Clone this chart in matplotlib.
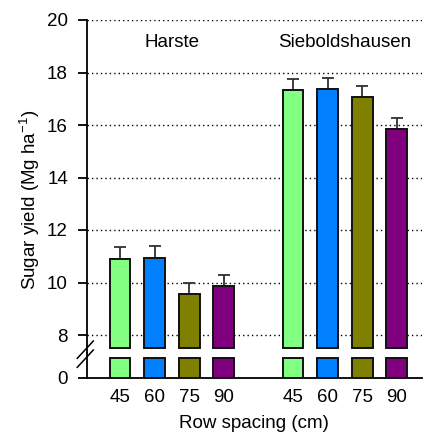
import matplotlib
matplotlib.use("Agg")
import matplotlib.pyplot as plt
from matplotlib.lines import Line2D
import numpy as np

plt.rcParams['font.family'] = ['Liberation Sans', 'DejaVu Sans']
plt.rcParams['mathtext.fontset'] = 'custom'
plt.rcParams['mathtext.rm'] = 'Liberation Sans'
plt.rcParams['mathtext.it'] = 'Liberation Sans:italic'

# ---- data ----
sites = ["Harste", "Sieboldshausen"]
spacings = ["45", "60", "75", "90"]
harste_yield = [10.90, 10.95, 9.56, 9.85]
harste_err = [0.45, 0.45, 0.44, 0.45]
sieb_yield = [17.33, 17.37, 17.08, 15.86]
sieb_err = [0.42, 0.43, 0.42, 0.42]
colors = ["#80FF80", "#0080FF", "#808000", "#800080"]
upper_ticks = [8, 10, 12, 14, 16, 18, 20]

W, H = 433, 434
fig = plt.figure(figsize=(W / 100, H / 100), dpi=100)

def fx(px):
    return px / W

def fy(py):
    return 1 - py / H

left_px, right_px = 86.7, 422.0
top_px, mid_px, bot_px = 20.0, 352.5, 377.5

ax_top = fig.add_axes([fx(left_px), fy(mid_px), fx(right_px - left_px), (mid_px - top_px) / H])
ax_bot = fig.add_axes([fx(left_px), fy(bot_px), fx(right_px - left_px), (bot_px - mid_px) / H])

x_h = np.arange(4)
x_s = np.arange(4) + 5
xs = np.concatenate([x_h, x_s])
vals = np.array(harste_yield + sieb_yield)
errs = np.array(harste_err + sieb_err)
cols = colors + colors

break_low = 7.5
low_cap = 1.0
upper_min = 8 - (mid_px - 335.0) / 26.25
bw = 0.6
fs = 13.5

# upper panel
ax_top.bar(xs, vals - break_low, bottom=break_low, width=bw, color=cols,
           edgecolor='#111111', linewidth=1.4, zorder=3)
ax_top.errorbar(xs, vals, yerr=[np.zeros_like(errs), errs], fmt='none',
                ecolor='#303030', elinewidth=1.3, capsize=4, capthick=1.3, zorder=2)
ax_top.set_ylim(upper_min, 20)
ax_top.set_yticks(upper_ticks)
ax_top.set_xlim(-0.962, 8.73)
ax_top.set_xticks([])
for y in upper_ticks:
    ax_top.axhline(y, color='black', linestyle=(0, (1, 2.2)), linewidth=1.0, zorder=1)
for s in ['top', 'right', 'bottom']:
    ax_top.spines[s].set_visible(False)
ax_top.spines['left'].set_linewidth(1.3)
ax_top.tick_params(axis='y', direction='out', length=6.5, width=1.3, pad=7, labelsize=fs)
ax_top.text(1.5, 19.16, sites[0], ha='center', va='center', fontsize=fs)
ax_top.text(6.5, 19.16, sites[1], ha='center', va='center', fontsize=fs)
ax_top.patch.set_alpha(0)

# lower panel
ax_bot.bar(xs, np.minimum(vals, low_cap), width=bw, color=cols,
           edgecolor='#111111', linewidth=1.4, zorder=3)
ax_bot.set_ylim(0, 1.25)
ax_bot.set_yticks([0])
ax_bot.set_xlim(-0.962, 8.73)
ax_bot.set_xticks(xs)
ax_bot.set_xticklabels(spacings + spacings)
for s in ['top', 'right']:
    ax_bot.spines[s].set_visible(False)
ax_bot.spines['left'].set_linewidth(1.3)
ax_bot.spines['bottom'].set_linewidth(1.3)
ax_bot.tick_params(axis='y', direction='out', length=6.5, width=1.3, pad=7, labelsize=fs)
ax_bot.tick_params(axis='x', length=0, pad=8.5, labelsize=fs)
ax_bot.patch.set_alpha(0)

# break marks
for off in (0, 9):
    fig.add_artist(Line2D([fx(77.3), fx(93.3)], [fy(358.3 + off), fy(341.0 + off)],
                          transform=fig.transFigure, color='black', linewidth=1.1))

fig.text(fx(30), fy(200), "Sugar yield (Mg ha$^{\\mathregular{-1}}$)", rotation=90,
         ha='center', va='center', fontsize=fs)
fig.text(fx(254), fy(423), "Row spacing (cm)", ha='center', va='center', fontsize=fs)

fig.savefig("out.png", dpi=100)
